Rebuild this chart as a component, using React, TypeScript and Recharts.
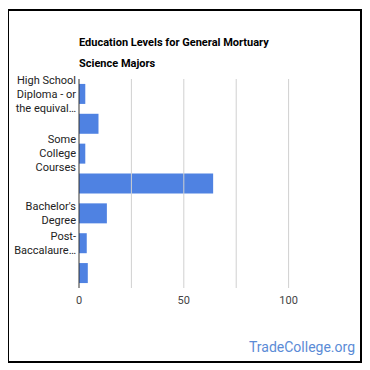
import React from "react";
import { BarChart, Bar, XAxis, YAxis, ReferenceLine } from "recharts";

const categories = [
  "High School Diploma - or the equivalent (for example, GED)",
  "Post-Secondary Certificate",
  "Some College Courses",
  "Associate's Degree (or other 2-year degree)",
  "Bachelor's Degree",
  "Post-Baccalaureate Certificate",
  "Master's Degree",
];
const percents = [3, 9.3, 3, 64, 13.3, 3.7, 4.2];
const tickLabelLines: string[][] = [
  ["High School", "Diploma - or", "the equival…"],
  [],
  ["Some", "College", "Courses"],
  [],
  ["Bachelor's", "Degree"],
  ["Post-", "Baccalaure…"],
  [],
];
const xTicks = [0, 50, 100];
const gridValues = [25, 50, 75, 100];
const xDomain = [0, 125];
const titleLines = ["Education Levels for General Mortuary", "Science Majors"];

const data = categories.map((name, i) => ({ name, value: percents[i] }));

const FONT = "Roboto, Arial, sans-serif";

const CategoryTick = (props: any) => {
  const { x, y, payload } = props;
  const lines = tickLabelLines[payload.index] || [];
  const lh = 14;
  const start = y - ((lines.length - 1) * lh) / 2;
  return (
    <g>
      {lines.map((l, i) => (
        <text
          key={i}
          x={x}
          y={start + i * lh}
          dy="0.35em"
          textAnchor="end"
          fontSize={11}
          fontFamily={FONT}
          fill="#222"
        >
          {l}
        </text>
      ))}
    </g>
  );
};

export default function App() {
  return (
    <div style={{ position: "relative", width: 370, height: 370, margin: "-8px 0 0 -8px", background: "#fff" }}>
      <div
        style={{
          position: "absolute",
          left: 7,
          top: 9,
          width: 355,
          height: 354,
          border: "2px solid #000",
          boxSizing: "border-box",
        }}
      />
      <div style={{ position: "absolute", left: 0, top: 0 }}>
        <BarChart
          width={370}
          height={370}
          data={data}
          layout="vertical"
          margin={{ top: 79, right: 29, bottom: 52, left: 0 }}
          barCategoryGap="16.5%"
        >
          {gridValues.map((v) => (
            <ReferenceLine key={v} x={v} stroke="#d0d0d0" strokeWidth={1} />
          ))}
          <XAxis
            type="number"
            domain={xDomain}
            ticks={xTicks}
            axisLine={false}
            tickLine={false}
            height={30}
            tick={{ fontSize: 11, fontFamily: FONT, fill: "#444" }}
          />
          <YAxis
            type="category"
            dataKey="name"
            width={79}
            axisLine={false}
            tickLine={false}
            tickSize={0}
            tickMargin={3}
            interval={0}
            tick={<CategoryTick />}
          />
          <Bar dataKey="value" fill="#4f82e2" isAnimationActive={false} />
          <ReferenceLine x={0} stroke="#333" strokeWidth={1} />
        </BarChart>
      </div>
      <div
        style={{
          position: "absolute",
          left: 79,
          top: 32,
          fontFamily: FONT,
          fontWeight: "bold",
          fontSize: 11,
          lineHeight: "21px",
          color: "#000",
          whiteSpace: "nowrap",
        }}
      >
        {titleLines.map((t, i) => (
          <div key={i}>{t}</div>
        ))}
      </div>
      <div
        style={{
          position: "absolute",
          right: 15,
          top: 339,
          fontFamily: FONT,
          fontSize: 14,
          color: "#5b8bd6",
          whiteSpace: "nowrap",
        }}
      >
        TradeCollege.org
      </div>
    </div>
  );
}
